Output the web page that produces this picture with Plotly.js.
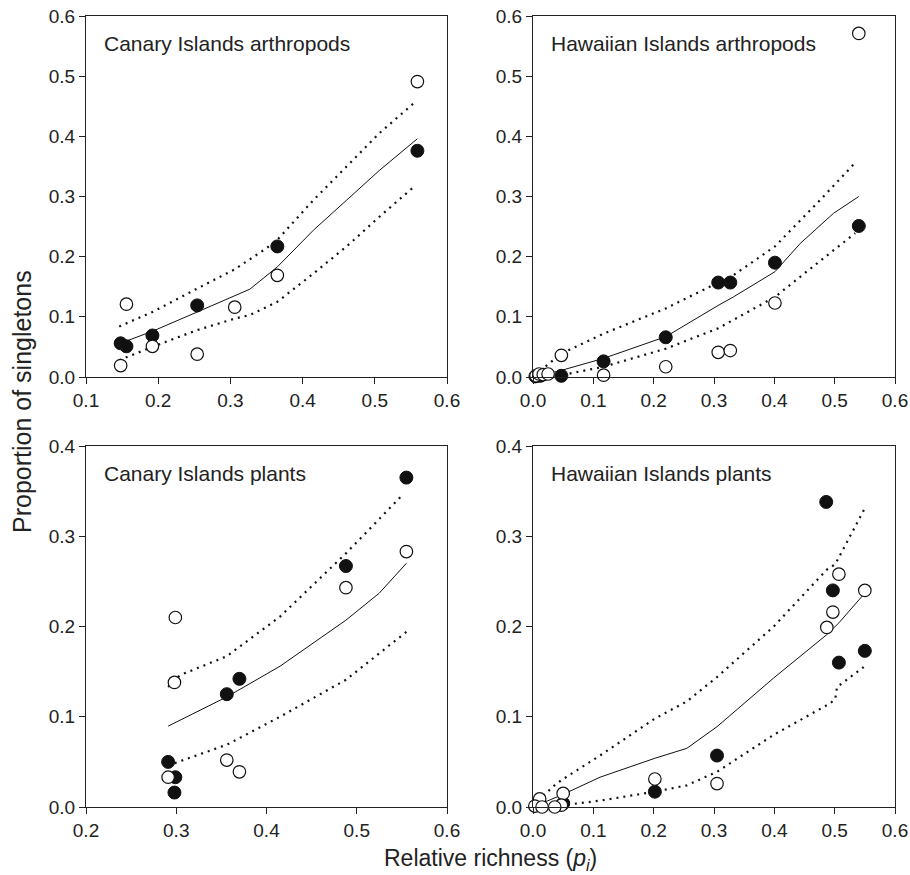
<!DOCTYPE html>
<html>
<head>
<meta charset="utf-8">
<script src="https://cdn.plot.ly/plotly-3.0.1.min.js"></script>
<style>html,body{margin:0;padding:0;background:#fff;}#chart{width:910px;height:875px;}</style>
</head>
<body>
<div id="chart"></div>
<script>
// ---------- Panel A: Canary Islands arthropods ----------
const caArthOpenX = [0.559, 0.365, 0.156, 0.306, 0.192, 0.254, 0.148];
const caArthOpenY = [0.491, 0.169, 0.121, 0.116, 0.051, 0.038, 0.019];
const caArthSolidX = [0.559, 0.365, 0.254, 0.192, 0.148, 0.156];
const caArthSolidY = [0.376, 0.217, 0.119, 0.069, 0.056, 0.051];
const caArthFitX = [0.152, 0.192, 0.254, 0.306, 0.327, 0.365, 0.415, 0.461, 0.507, 0.559];
const caArthFitY = [0.058, 0.076, 0.108, 0.136, 0.146, 0.183, 0.244, 0.294, 0.344, 0.396];
const caArthUpX = [0.146, 0.192, 0.254, 0.306, 0.350, 0.365, 0.415, 0.461, 0.507, 0.555];
const caArthUpY = [0.084, 0.108, 0.147, 0.179, 0.214, 0.228, 0.294, 0.350, 0.406, 0.456];
const caArthLoX = [0.146, 0.192, 0.254, 0.306, 0.327, 0.365, 0.415, 0.461, 0.507, 0.555];
const caArthLoY = [0.028, 0.050, 0.078, 0.097, 0.103, 0.125, 0.172, 0.217, 0.267, 0.317];

// ---------- Panel B: Hawaiian Islands arthropods ----------
const hiArthOpenX = [0.540, 0.401, 0.307, 0.327, 0.220, 0.117, 0.047, 0.005, 0.010, 0.017, 0.025];
const hiArthOpenY = [0.571, 0.123, 0.041, 0.044, 0.017, 0.003, 0.036, 0.002, 0.005, 0.004, 0.005];
const hiArthSolidX = [0.540, 0.401, 0.307, 0.327, 0.220, 0.117, 0.047, 0.004, 0.012];
const hiArthSolidY = [0.251, 0.190, 0.157, 0.157, 0.066, 0.026, 0.002, 0.001, 0.002];
const hiArthFitX = [0.003, 0.047, 0.117, 0.220, 0.307, 0.332, 0.401, 0.443, 0.498, 0.540];
const hiArthFitY = [0.001, 0.011, 0.031, 0.067, 0.119, 0.133, 0.175, 0.222, 0.272, 0.300];
const hiArthUpX = [0.003, 0.047, 0.117, 0.220, 0.299, 0.332, 0.401, 0.471, 0.534];
const hiArthUpY = [0.003, 0.039, 0.072, 0.114, 0.153, 0.169, 0.217, 0.289, 0.356];
const hiArthLoX = [0.003, 0.047, 0.117, 0.220, 0.307, 0.401, 0.471, 0.534];
const hiArthLoY = [0.000, 0.003, 0.017, 0.047, 0.081, 0.133, 0.189, 0.239];

// ---------- Panel C: Canary Islands plants ----------
const caPlOpenX = [0.555, 0.488, 0.299, 0.298, 0.356, 0.370, 0.291];
const caPlOpenY = [0.283, 0.243, 0.210, 0.138, 0.052, 0.039, 0.033];
const caPlSolidX = [0.555, 0.488, 0.370, 0.356, 0.291, 0.299, 0.298];
const caPlSolidY = [0.365, 0.267, 0.142, 0.125, 0.050, 0.033, 0.016];
const caPlFitX = [0.291, 0.356, 0.415, 0.488, 0.525, 0.555];
const caPlFitY = [0.0896, 0.122, 0.156, 0.207, 0.237, 0.270];
const caPlUpX = [0.291, 0.304, 0.356, 0.415, 0.488, 0.549];
const caPlUpY = [0.133, 0.146, 0.167, 0.211, 0.281, 0.344];
const caPlLoX = [0.291, 0.356, 0.415, 0.488, 0.555];
const caPlLoY = [0.046, 0.069, 0.100, 0.141, 0.194];

// ---------- Panel D: Hawaiian Islands plants ----------
const hiPlOpenX = [0.507, 0.550, 0.497, 0.487, 0.305, 0.202, 0.050, 0.047, 0.036, 0.011, 0.003, 0.015];
const hiPlOpenY = [0.258, 0.240, 0.216, 0.199, 0.026, 0.031, 0.015, 0.002, 0.000, 0.009, 0.001, 0.000];
const hiPlSolidX = [0.486, 0.497, 0.550, 0.507, 0.305, 0.202, 0.050];
const hiPlSolidY = [0.338, 0.240, 0.173, 0.160, 0.057, 0.017, 0.004];
const hiPlFitX = [0.000, 0.050, 0.111, 0.202, 0.255, 0.305, 0.399, 0.487, 0.507, 0.550];
const hiPlFitY = [0.000, 0.014, 0.033, 0.054, 0.065, 0.089, 0.143, 0.191, 0.204, 0.237];
const hiPlUpX = [0.000, 0.039, 0.050, 0.111, 0.202, 0.255, 0.305, 0.399, 0.487, 0.501, 0.550];
const hiPlUpY = [0.002, 0.026, 0.031, 0.057, 0.098, 0.117, 0.144, 0.200, 0.263, 0.269, 0.331];
const hiPlLoX = [0.000, 0.050, 0.111, 0.202, 0.255, 0.305, 0.399, 0.493, 0.501, 0.504, 0.550];
const hiPlLoY = [0.000, 0.002, 0.007, 0.017, 0.024, 0.039, 0.080, 0.115, 0.120, 0.133, 0.156];

const panelTitles = ["Canary Islands arthropods", "Hawaiian Islands arthropods", "Canary Islands plants", "Hawaiian Islands plants"];
const xTitle = "Relative richness (<i>p<sub>i</sub></i>)";
const yTitle = "Proportion of singletons";

const panels = [
  {ax: ['x', 'y'], open: [caArthOpenX, caArthOpenY], solid: [caArthSolidX, caArthSolidY], fit: [caArthFitX, caArthFitY], up: [caArthUpX, caArthUpY], lo: [caArthLoX, caArthLoY]},
  {ax: ['x2', 'y2'], open: [hiArthOpenX, hiArthOpenY], solid: [hiArthSolidX, hiArthSolidY], fit: [hiArthFitX, hiArthFitY], up: [hiArthUpX, hiArthUpY], lo: [hiArthLoX, hiArthLoY]},
  {ax: ['x3', 'y3'], open: [caPlOpenX, caPlOpenY], solid: [caPlSolidX, caPlSolidY], fit: [caPlFitX, caPlFitY], up: [caPlUpX, caPlUpY], lo: [caPlLoX, caPlLoY]},
  {ax: ['x4', 'y4'], open: [hiPlOpenX, hiPlOpenY], solid: [hiPlSolidX, hiPlSolidY], fit: [hiPlFitX, hiPlFitY], up: [hiPlUpX, hiPlUpY], lo: [hiPlLoX, hiPlLoY]}
];

const traces = [];
panels.forEach(p => {
  const base = {xaxis: p.ax[0], yaxis: p.ax[1], showlegend: false, hoverinfo: 'skip', cliponaxis: false};
  traces.push(Object.assign({}, base, {x: p.fit[0], y: p.fit[1], mode: 'lines', line: {color: '#111', width: 1}}));
  traces.push(Object.assign({}, base, {x: p.up[0], y: p.up[1], mode: 'lines', line: {color: '#111', width: 2.2, dash: '2px,5px'}}));
  traces.push(Object.assign({}, base, {x: p.lo[0], y: p.lo[1], mode: 'lines', line: {color: '#111', width: 2.2, dash: '2px,5px'}}));
  traces.push(Object.assign({}, base, {x: p.solid[0], y: p.solid[1], mode: 'markers', marker: {symbol: 'circle', size: 13, color: '#111', line: {color: '#111', width: 1}}}));
  traces.push(Object.assign({}, base, {x: p.open[0], y: p.open[1], mode: 'markers', marker: {symbol: 'circle', size: 12.5, color: '#fff', line: {color: '#111', width: 1.2}}}));
});

const W = 910, H = 875;
const colL = [86 / W, 447 / W];
const colR = [533 / W, 895 / W];
const rowT = [1 - 377 / H, 1 - 16 / H];
const rowB = [1 - 807 / H, 1 - 446 / H];

const FAM = 'Liberation Sans, Arial, Helvetica, sans-serif';
const tickFont = {family: FAM, size: 19, color: '#222'};
function ax(domain, range, anchor) {
  return {domain: domain, range: range, anchor: anchor, dtick: 0.1, tick0: 0, tickformat: '.1f',
    ticks: 'outside', ticklen: 6, tickwidth: 1, tickcolor: '#222', showline: true, linecolor: '#222', linewidth: 1,
    mirror: true, showgrid: false, zeroline: false, tickfont: tickFont, fixedrange: true};
}

const titleFont = {family: FAM, size: 21, color: '#222'};
const annotations = [
  {xref: 'x domain', yref: 'y domain', x: 0.045, y: 0.925, text: panelTitles[0]},
  {xref: 'x2 domain', yref: 'y2 domain', x: 0.045, y: 0.925, text: panelTitles[1]},
  {xref: 'x3 domain', yref: 'y3 domain', x: 0.045, y: 0.925, text: panelTitles[2]},
  {xref: 'x4 domain', yref: 'y4 domain', x: 0.045, y: 0.925, text: panelTitles[3]}
].map(a => Object.assign(a, {xanchor: 'left', yanchor: 'middle', showarrow: false, font: titleFont}));
annotations.push({xref: 'paper', yref: 'paper', x: 490 / W, y: 1 - 859 / H, text: xTitle, showarrow: false,
  xanchor: 'center', yanchor: 'middle', font: {family: FAM, size: 23, color: '#222'}});
annotations.push({xref: 'paper', yref: 'paper', x: 22 / W, y: 1 - 402 / H, text: yTitle, showarrow: false, textangle: -90,
  xanchor: 'center', yanchor: 'middle', font: {family: FAM, size: 25, color: '#222'}});

const layout = {
  width: W, height: H,
  margin: {l: 0, r: 0, t: 0, b: 0},
  paper_bgcolor: '#fff', plot_bgcolor: '#fff',
  xaxis: ax(colL, [0.1, 0.6], 'y'), yaxis: ax(rowT, [0, 0.6], 'x'),
  xaxis2: ax(colR, [0, 0.6], 'y2'), yaxis2: ax(rowT, [0, 0.6], 'x2'),
  xaxis3: ax(colL, [0.2, 0.6], 'y3'), yaxis3: ax(rowB, [0, 0.4], 'x3'),
  xaxis4: ax(colR, [0, 0.6], 'y4'), yaxis4: ax(rowB, [0, 0.4], 'x4'),
  annotations: annotations
};

Plotly.newPlot('chart', traces, layout, {displayModeBar: false, staticPlot: true});
</script>
</body>
</html>
